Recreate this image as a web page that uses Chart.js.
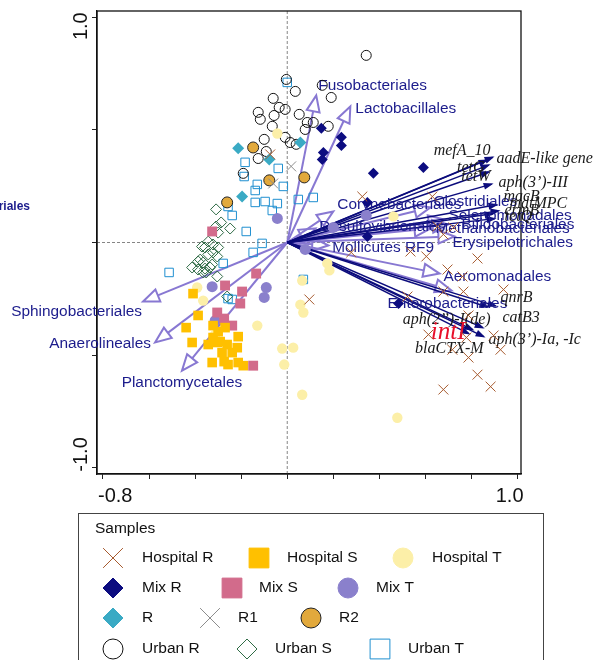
<!DOCTYPE html>
<html>
<head>
<meta charset="utf-8">
<script src="https://cdn.jsdelivr.net/npm/chart.js@4/dist/chart.umd.min.js"></script>
<style>
  html, body { margin: 0; padding: 0; background: #fff; }
  canvas { display: block; }
</style>
</head>
<body>
<canvas id="plot" width="599" height="660"></canvas>
<script>
// axis ticks
const xTicks = [-0.8, -0.6, -0.4, -0.2, 0, 0.2, 0.4, 0.6, 0.8, 1.0];
const yTicks = [-1.0, -0.5, 0, 0.5, 1.0];
const xTickLabels = ['-0.8', '1.0'];
const yTickLabels = ['-1.0', '1.0'];

// sample scores [axis1, axis2]
const hospitalR = [[0.326,0.204],[0.63,0.204],[0.652,0.071],[0.678,0.036],[0.722,0.067],[0.278,-0.044],[0.535,-0.04],
  [0.604,-0.062],[0.826,-0.071],[0.696,-0.12],[0.761,-0.151],[0.765,-0.218],[0.678,-0.218],[0.939,-0.209],[0.522,-0.24],
  [0.096,-0.253],[0.787,-0.324],[0.613,-0.409],[0.778,-0.422],[0.896,-0.413],[0.717,-0.476],[0.926,-0.476],[0.787,-0.511],
  [0.826,-0.587],[0.678,-0.653],[0.883,-0.64],[-0.074,0.391]];
const hospitalS = [[-0.409,-0.227],[-0.387,-0.324],[-0.439,-0.378],[-0.413,-0.444],[-0.322,-0.369],[-0.3,-0.396],[-0.27,-0.378],
  [-0.213,-0.418],[-0.343,-0.453],[-0.304,-0.444],[-0.291,-0.44],[-0.261,-0.453],[-0.217,-0.467],[-0.283,-0.489],[-0.239,-0.489],
  [-0.326,-0.533],[-0.274,-0.529],[-0.257,-0.542],[-0.213,-0.533],[-0.191,-0.547],[-0.322,-0.422]];
const hospitalT = [[-0.043,0.484],[0.461,0.116],[0.174,-0.093],[0.183,-0.124],[0.065,-0.169],[0.057,-0.276],[0.07,-0.311],
  [-0.391,-0.2],[-0.365,-0.258],[-0.13,-0.369],[-0.022,-0.471],[0.026,-0.467],[-0.013,-0.542],[0.065,-0.676],[0.478,-0.778],
  [-0.313,-0.409]];
const mixR = [[0.148,0.507],[0.235,0.467],[0.235,0.431],[0.157,0.4],[0.152,0.369],[0.374,0.307],[0.591,0.333],
  [0.348,0.178],[0.348,0.027],[0.483,-0.271]];
const mixS = [[-0.326,0.049],[-0.135,-0.138],[-0.27,-0.191],[-0.196,-0.218],[-0.204,-0.271],[-0.304,-0.311],[-0.274,-0.338],
  [-0.239,-0.369],[-0.148,-0.547]];
const mixT = [[-0.043,0.107],[-0.326,-0.196],[-0.091,-0.2],[-0.1,-0.244],[-0.313,-0.347],[0.078,-0.031],[0.343,0.12],[0.2,0.067]];
const siteR = [[-0.213,0.418],[-0.078,0.369],[0.057,0.444],[-0.196,0.204]];
const siteR1 = [[0.017,0.338],[-0.061,0.262]];
const siteR2 = [[-0.148,0.422],[0.074,0.289],[-0.078,0.276],[-0.261,0.178]];
const urbanR = [[0.343,0.831],[-0.004,0.724],[0.035,0.671],[0.152,0.698],[0.191,0.644],[-0.061,0.64],[-0.035,0.6],
  [-0.009,0.591],[-0.126,0.578],[-0.117,0.547],[-0.057,0.564],[-0.065,0.516],[0.052,0.569],[0.087,0.533],[0.113,0.533],
  [0.178,0.516],[0.078,0.502],[-0.1,0.458],[-0.009,0.467],[0.013,0.444],[0.039,0.436],[-0.091,0.404],[-0.126,0.373],
  [-0.191,0.307]];
const urbanS = [[-0.309,0.147],[-0.287,0.089],[-0.248,0.062],[-0.309,0.071],[-0.3,0.044],[-0.343,0.004],[-0.322,-0.009],
  [-0.3,-0.022],[-0.357,-0.022],[-0.37,-0.018],[-0.304,-0.062],[-0.378,-0.076],[-0.365,-0.089],[-0.413,-0.111],[-0.387,-0.12],
  [-0.357,-0.116],[-0.326,-0.098],[-0.365,-0.133],[-0.304,-0.151],[-0.335,-0.111],[-0.343,-0.053],[-0.387,-0.084],
  [-0.322,-0.044],[-0.261,-0.24],[-0.352,-0.133]];
const urbanT = [[0,0.711],[-0.183,0.356],[-0.039,0.329],[-0.187,0.293],[-0.13,0.258],[-0.139,0.231],[-0.017,0.249],
  [0.048,0.191],[0.113,0.2],[-0.096,0.182],[-0.139,0.178],[-0.043,0.173],[-0.065,0.142],[-0.257,0.16],[-0.239,0.12],
  [-0.178,0.049],[-0.109,-0.004],[-0.148,-0.044],[-0.278,-0.093],[-0.513,-0.133],[-0.257,-0.249],[-0.239,-0.253],[0.07,-0.164]];

// bacterial orders (supplementary arrows)
const taxaNames = ['Fusobacteriales','Lactobacillales','Sphingobacteriales','Anaerolineales','Planctomycetales',
  'Corynebacteriales','Desulfovibrionales','Mollicutes RF9','Clostridiales','Selenomonadales','Bifidobacteriales',
  'Methanobacteriales','Erysipelotrichales','Aeromonadales','Enterobacteriales'];
const taxaX = [0.126, 0.274, -0.626, -0.574, -0.457, 0.2, 0.122, 0.178, 0.622, 0.683, 0.7, 0.622, 0.726, 0.661, 0.713];
const taxaY = [0.653, 0.604, -0.262, -0.444, -0.569, 0.138, 0.062, -0.013, 0.156, 0.102, 0.08, 0.062, 0.027, -0.138, -0.213];

// resistance genes
const geneNames = ['mefA_10','aadE-like gene','tetG','tetW','aph(3’)-III','macB','mdtMPC','ermB','tetQ',
  'qnrB','catB3','aph(2’’)-I(de)','intI','aph(3’)-Ia, -Ic','blaCTX-M'];
const geneX = [0.874, 0.9, 0.883, 0.883, 0.896, 0.917, 0.926, 0.9, 0.909, 0.913, 0.878, 0.857, 0.813, 0.861, 0.796];
const geneY = [0.369, 0.382, 0.347, 0.316, 0.262, 0.169, 0.142, 0.129, 0.107, -0.284, -0.289, -0.382, -0.391, -0.422, -0.409];

// label placement (pixels from arrow tip)
const taxaLabel = [[2,-10,'left'],[5,2,'left'],[-1,10,'right'],[-4,1,'right'],[0,12,'center'],[4,-7,'left'],[4,-2,'left'],
  [4,2,'left'],[3,-6,'left'],[4,-4,'left'],[13,0,'left'],[5,0,'left'],[-2,6,'left'],[4,3,'left'],[-4,13,'center']];
const geneLabel = [[2,-9,'right'],[2,2,'left'],[-6,3,'right'],[0,5,'right'],[5,-1,'left'],[5,-8,'left'],[9,-7,'left'],
  [10,-3,'left'],[8,-2,'left'],[3,-9,'left'],[13,10,'left'],[6,-9,'right'],[-9,2,'right'],[3,2,'left'],[13,14,'right']];

const groups = [
  { label: 'Hospital R', data: hospitalR, pointStyle: 'crossRot', radius: 7, fill: '#a65a2e', line: '#a65a2e', bw: 1 },
  { label: 'Hospital S', data: hospitalS, pointStyle: 'rect', radius: 6.8, fill: '#ffc000', line: '#ffc000', bw: 0 },
  { label: 'Hospital T', data: hospitalT, pointStyle: 'circle', radius: 5.2, fill: '#fcefa8', line: '#fcefa8', bw: 0 },
  { label: 'Mix R', data: mixR, pointStyle: 'rectRot', radius: 5.5, fill: '#0c0c80', line: '#0c0c80', bw: 0 },
  { label: 'Mix S', data: mixS, pointStyle: 'rect', radius: 7, fill: '#d26b8b', line: '#d26b8b', bw: 0 },
  { label: 'Mix T', data: mixT, pointStyle: 'circle', radius: 5.5, fill: '#8a80cc', line: '#8a80cc', bw: 0 },
  { label: 'R', data: siteR, pointStyle: 'rectRot', radius: 6, fill: '#3aaac4', line: '#3aaac4', bw: 0 },
  { label: 'R1', data: siteR1, pointStyle: 'crossRot', radius: 7, fill: '#8c8c8c', line: '#8c8c8c', bw: 1 },
  { label: 'R2', data: siteR2, pointStyle: 'circle', radius: 5.5, fill: '#e2a93c', line: '#222', bw: 1 },
  { label: 'Urban R', data: urbanR, pointStyle: 'circle', radius: 5, fill: 'rgba(0,0,0,0)', line: '#111', bw: 1 },
  { label: 'Urban S', data: urbanS, pointStyle: 'rectRot', radius: 5.5, fill: 'rgba(0,0,0,0)', line: '#2f6b45', bw: 1 },
  { label: 'Urban T', data: urbanT, pointStyle: 'rect', radius: 6, fill: 'rgba(0,0,0,0)', line: '#1f8fd0', bw: 1 }
];

// legend layout: [marker x, text x, row y]
const legendPos = [[113,142,558],[259,287,558],[403,432,558],[113,142,588],[232,259,588],[348,376,588],
  [113,142,618],[210,238,618],[311,339,618],[113,142,649],[247,275,649],[380,408,649]];

const SANS = '"Liberation Sans", Arial, Helvetica, sans-serif';
const SERIF = '"Liberation Serif", "Times New Roman", serif';
const TAXA_LINE = '#8878d2';
const TAXA_TEXT = '#1c1c8c';
const GENE_LINE = '#0c0c7c';

function arrow(ctx, x0, y0, x1, y1, color, lw, len, w, hollow) {
  const a = Math.atan2(y1 - y0, x1 - x0);
  const bx = x1 - len * Math.cos(a), by = y1 - len * Math.sin(a);
  const px = -Math.sin(a) * w / 2, py = Math.cos(a) * w / 2;
  ctx.strokeStyle = color;
  ctx.fillStyle = color;
  ctx.lineWidth = lw;
  ctx.beginPath();
  ctx.moveTo(x0, y0);
  ctx.lineTo(hollow ? bx : x1 - 2 * Math.cos(a), hollow ? by : y1 - 2 * Math.sin(a));
  ctx.stroke();
  ctx.beginPath();
  ctx.moveTo(x1, y1);
  ctx.lineTo(bx + px, by + py);
  ctx.lineTo(bx - px, by - py);
  ctx.closePath();
  if (hollow) ctx.stroke(); else ctx.fill();
}

function marker(ctx, g, x, y, r) {
  ctx.fillStyle = g.fill;
  ctx.strokeStyle = g.bw === 0 ? g.fill : g.line;
  ctx.lineWidth = Math.max(g.bw, 1);
  Chart.helpers.drawPoint(ctx, { pointStyle: g.pointStyle, radius: r, rotation: 0, borderWidth: Math.max(g.bw, 1) }, x, y);
}

const biplot = {
  id: 'biplot',
  beforeDatasetsDraw(chart) {
    const { ctx, chartArea: a, scales: { x, y } } = chart;
    const ox = x.getPixelForValue(0), oy = y.getPixelForValue(0);
    ctx.save();
    // zero lines
    ctx.strokeStyle = '#666';
    ctx.lineWidth = 0.8;
    ctx.setLineDash([3, 2]);
    ctx.beginPath();
    ctx.moveTo(ox, a.top); ctx.lineTo(ox, a.bottom);
    ctx.moveTo(a.left, oy); ctx.lineTo(a.right, oy);
    ctx.stroke();
    ctx.setLineDash([]);
    ctx.strokeStyle = '#111';
    ctx.lineWidth = 1.3;
    ctx.strokeRect(a.left, a.top, a.right - a.left, a.bottom - a.top);

    // taxa arrows (hollow heads)
    taxaNames.forEach((n, i) => {
      arrow(ctx, ox, oy, x.getPixelForValue(taxaX[i]), y.getPixelForValue(taxaY[i]), TAXA_LINE, 2, 16, 13, true);
    });
    // gene arrows (filled heads)
    geneNames.forEach((n, i) => {
      arrow(ctx, ox, oy, x.getPixelForValue(geneX[i]), y.getPixelForValue(geneY[i]), GENE_LINE, 1.4, 10, 7, false);
    });

    // labels
    ctx.textBaseline = 'middle';
    ctx.font = '15.4px ' + SANS;
    ctx.fillStyle = TAXA_TEXT;
    taxaNames.forEach((n, i) => {
      const [dx, dy, al] = taxaLabel[i];
      ctx.textAlign = al;
      ctx.fillText(n, x.getPixelForValue(taxaX[i]) + dx, y.getPixelForValue(taxaY[i]) + dy);
    });
    ctx.textAlign = 'right';
    ctx.font = 'bold 12px ' + SANS;
    ctx.fillText('Burkholderiales', 30, 207);

    geneNames.forEach((n, i) => {
      const [dx, dy, al] = geneLabel[i];
      ctx.textAlign = al;
      if (n === 'intI') {
        ctx.font = 'italic 25px ' + SERIF;
        ctx.fillStyle = '#e8102a';
      } else {
        ctx.font = 'italic 16px ' + SERIF;
        ctx.fillStyle = '#1a1a1a';
      }
      ctx.fillText(n, x.getPixelForValue(geneX[i]) + dx, y.getPixelForValue(geneY[i]) + dy);
    });
    ctx.restore();
  },
  afterDraw(chart) {
    const { ctx, scales: { x, y } } = chart;
    ctx.save();
    // tick labels
    ctx.font = '20px ' + SANS;
    ctx.fillStyle = '#111';
    ctx.textBaseline = 'alphabetic';
    ctx.textAlign = 'left';
    ctx.fillText(xTickLabels[0], x.getPixelForValue(xTicks[0]) - 5, 502);
    ctx.textAlign = 'right';
    ctx.fillText(xTickLabels[1], x.getPixelForValue(xTicks[xTicks.length - 1]) + 6, 502);
    [[yTickLabels[0], yTicks[0], 'left', -4], [yTickLabels[1], yTicks[yTicks.length - 1], 'right', 5]].forEach(([t, v, al, d]) => {
      ctx.save();
      ctx.translate(87, y.getPixelForValue(v));
      ctx.rotate(-Math.PI / 2);
      ctx.textAlign = al;
      ctx.fillText(t, d, 0);
      ctx.restore();
    });

    // legend box
    ctx.strokeStyle = '#444';
    ctx.lineWidth = 1;
    ctx.strokeRect(78.5, 513.5, 465, 170);
    ctx.font = '15.5px ' + SANS;
    ctx.textAlign = 'left';
    ctx.textBaseline = 'middle';
    ctx.fillStyle = '#111';
    ctx.fillText('Samples', 95, 529);
    groups.forEach((g, i) => {
      const [mx, tx, ry] = legendPos[i];
      const r = g.pointStyle === 'circle' || g.pointStyle === 'rectRot' ? 10 : 14;
      ctx.save();
      marker(ctx, g, mx, ry, r);
      ctx.restore();
      ctx.fillStyle = '#111';
      ctx.fillText(g.label, tx, ry);
    });
    ctx.restore();
  }
};

new Chart(document.getElementById('plot'), {
  type: 'scatter',
  data: {
    datasets: groups.map(g => ({
      label: g.label,
      data: g.data.map(([px, py]) => ({ x: px, y: py })),
      pointStyle: g.pointStyle,
      pointRadius: g.radius,
      pointBackgroundColor: g.fill,
      pointBorderColor: g.line,
      pointBorderWidth: g.bw
    }))
  },
  options: {
    responsive: false,
    animation: false,
    events: [],
    layout: { padding: { left: 92, right: 78, top: 11, bottom: 181 } },
    plugins: { legend: { display: false }, tooltip: { enabled: false } },
    scales: {
      x: {
        type: 'linear', min: -0.826, max: 1.015,
        afterBuildTicks: s => { s.ticks = xTicks.map(v => ({ value: v })); },
        ticks: { display: false },
        grid: { drawOnChartArea: false, tickLength: 5, color: '#222' },
        border: { color: '#111', width: 1.3 }
      },
      y: {
        type: 'linear', min: -1.028, max: 1.028,
        afterBuildTicks: s => { s.ticks = yTicks.map(v => ({ value: v })); },
        ticks: { display: false },
        grid: { drawOnChartArea: false, tickLength: 5, color: '#222' },
        border: { color: '#111', width: 1.3 }
      }
    }
  },
  plugins: [biplot]
});
</script>
</body>
</html>
